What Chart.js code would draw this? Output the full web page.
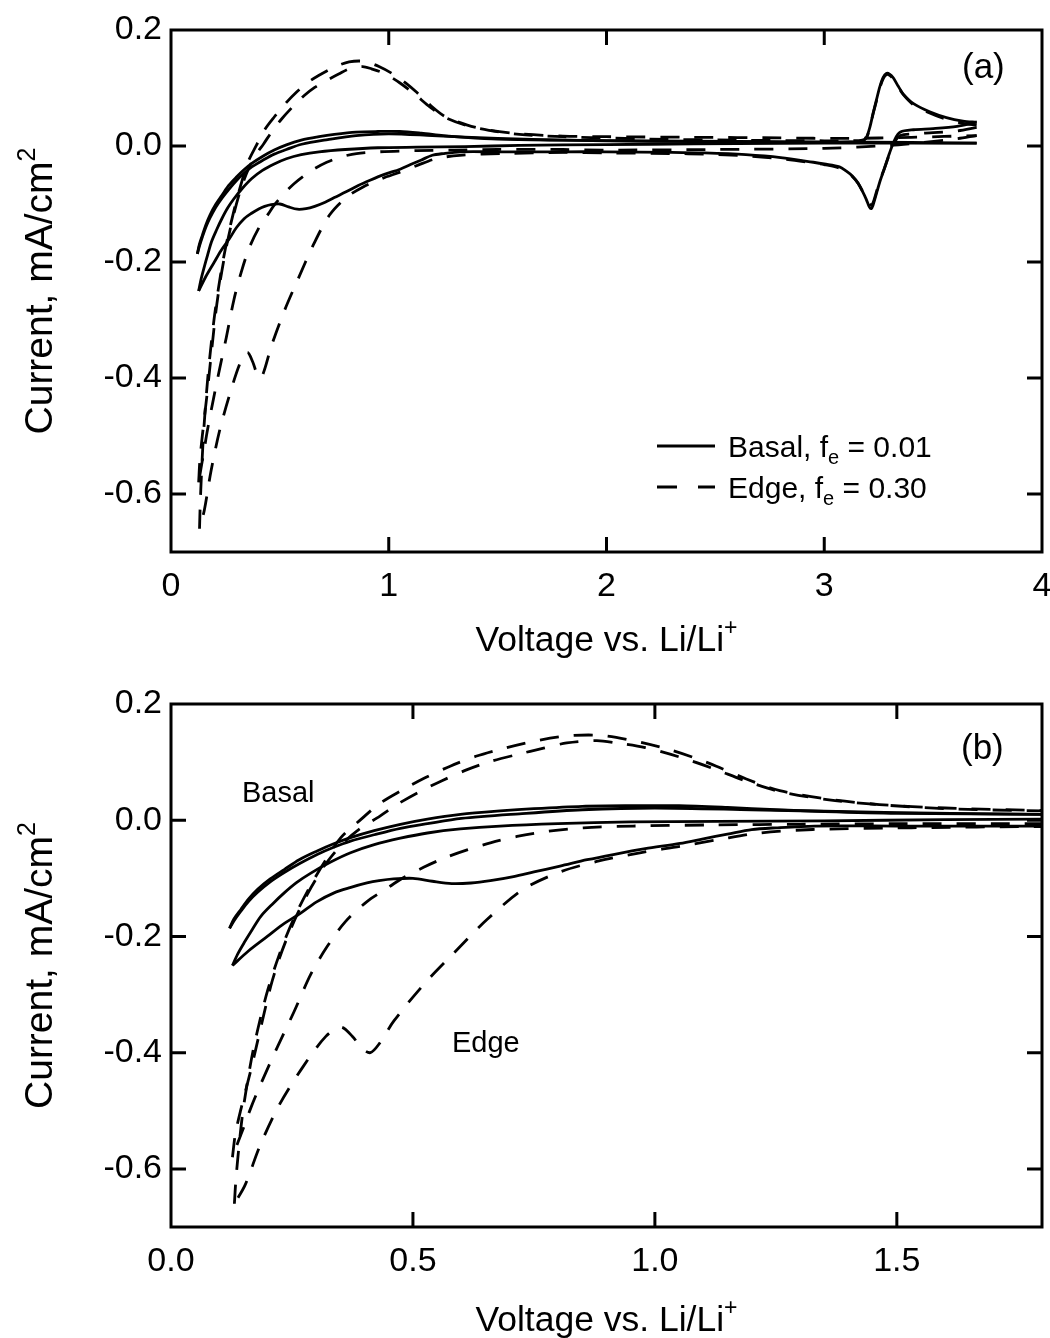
<!DOCTYPE html>
<html>
<head>
<meta charset="utf-8">
<script src="https://cdn.jsdelivr.net/npm/chart.js@4.4.1/dist/chart.umd.min.js"></script>
<style>
  html, body { margin: 0; padding: 0; background: #fff; }
  #wrap { position: relative; width: 1050px; height: 1338px; }
  canvas { position: absolute; left: 0; }
  #panelA { top: 0; }
  #panelB { top: 680px; }
</style>
</head>
<body>
<div id="wrap">
  <canvas id="panelA" width="1050" height="680"></canvas>
  <canvas id="panelB" width="1050" height="658"></canvas>
</div>
<script>
const FONT = "'Liberation Sans', Arial, sans-serif";

// axis ticks
const yTicks = [0.2, 0.0, -0.2, -0.4, -0.6];
const xTicksA = [0, 1, 2, 3, 4];
const xTicksB = [0.0, 0.5, 1.0, 1.5];

// Basal, f_e = 0.01 (solid) -- voltage (V vs Li/Li+) and current (mA/cm2)
// sweep 1: cathodic from 3.7 V, redox reduction peak + SEI bump, down to vertex
const basalSweep1V = [3.70, 3.61, 3.50, 3.41, 3.35, 3.325, 3.30, 3.275, 3.255, 3.235, 3.224, 3.216, 3.207, 3.193, 3.178, 3.155, 3.13, 3.10, 3.07, 3.00, 2.95, 2.80, 2.64, 2.45, 2.30, 2.00, 1.80, 1.50, 1.33, 1.25, 1.20, 1.15, 1.10, 1.052, 0.98, 0.914, 0.86, 0.804, 0.75, 0.708, 0.66, 0.62, 0.58, 0.54, 0.50, 0.46, 0.43, 0.405, 0.37, 0.337, 0.30, 0.268, 0.23, 0.199, 0.16, 0.127];
const basalSweep1I = [0.041, 0.034, 0.030, 0.028, 0.024, 0.012, -0.012, -0.040, -0.062, -0.088, -0.102, -0.108, -0.105, -0.092, -0.080, -0.064, -0.052, -0.043, -0.036, -0.031, -0.028, -0.020, -0.015, -0.012, -0.011, -0.010, -0.010, -0.010, -0.010, -0.013, -0.016, -0.024, -0.032, -0.040, -0.049, -0.059, -0.068, -0.079, -0.089, -0.097, -0.104, -0.108, -0.109, -0.105, -0.100, -0.101, -0.104, -0.108, -0.116, -0.125, -0.141, -0.160, -0.180, -0.200, -0.225, -0.250];
// sweep 2: anodic back from -0.25 vertex
const basalSweep2V = [0.127, 0.138, 0.151, 0.168, 0.186, 0.21, 0.234, 0.26, 0.289, 0.33, 0.371, 0.42, 0.474, 0.53, 0.598, 0.68, 0.80, 0.95, 1.13, 1.35, 1.6, 1.8, 2.2, 2.6, 3.0, 3.4, 3.70];
const basalSweep2I = [-0.250, -0.230, -0.211, -0.188, -0.165, -0.144, -0.125, -0.107, -0.091, -0.072, -0.056, -0.042, -0.031, -0.022, -0.015, -0.010, -0.006, -0.003, -0.002, -0.001, 0.001, 0.002, 0.003, 0.004, 0.005, 0.005, 0.005];
// sweep 3: cathodic, second cycle, to -0.19 vertex
const basalSweep3V = [3.70, 3.40, 3.00, 2.60, 2.20, 1.80, 1.50, 1.20, 1.00, 0.85, 0.72, 0.60, 0.53, 0.474, 0.42, 0.371, 0.335, 0.302, 0.265, 0.234, 0.205, 0.179, 0.16, 0.144, 0.131, 0.121];
const basalSweep3I = [0.005, 0.006, 0.007, 0.008, 0.009, 0.010, 0.013, 0.018, 0.021, 0.018, 0.011, 0.003, -0.006, -0.014, -0.025, -0.036, -0.047, -0.059, -0.075, -0.090, -0.106, -0.124, -0.140, -0.157, -0.172, -0.186];
// sweep 4: anodic, second cycle, through the oxidation peak
const basalSweep4V = [0.121, 0.130, 0.144, 0.16, 0.179, 0.205, 0.234, 0.265, 0.302, 0.335, 0.371, 0.42, 0.474, 0.53, 0.598, 0.68, 0.75, 0.85, 0.95, 1.05, 1.15, 1.25, 1.35, 1.50, 1.80, 2.20, 2.60, 3.00, 3.12, 3.175, 3.193, 3.21, 3.224, 3.24, 3.255, 3.27, 3.285, 3.30, 3.316, 3.34, 3.362, 3.41, 3.484, 3.561, 3.637, 3.70];
const basalSweep4I = [-0.186, -0.170, -0.154, -0.136, -0.119, -0.101, -0.085, -0.068, -0.053, -0.041, -0.030, -0.018, -0.007, 0.002, 0.010, 0.016, 0.020, 0.024, 0.025, 0.025, 0.022, 0.018, 0.015, 0.012, 0.010, 0.008, 0.007, 0.006, 0.007, 0.009, 0.014, 0.033, 0.056, 0.080, 0.102, 0.118, 0.125, 0.124, 0.118, 0.103, 0.090, 0.073, 0.059, 0.049, 0.043, 0.041];

// Edge, f_e = 0.30 (dashed)
const edgeSweep1V = [3.70, 3.61, 3.50, 3.41, 3.35, 3.325, 3.30, 3.275, 3.255, 3.235, 3.224, 3.216, 3.207, 3.193, 3.178, 3.155, 3.13, 3.10, 3.07, 3.00, 2.95, 2.80, 2.64, 2.45, 2.30, 2.00, 1.80, 1.53, 1.326, 1.216, 1.134, 1.052, 0.969, 0.88, 0.804, 0.728, 0.653, 0.584, 0.522, 0.461, 0.43, 0.412, 0.395, 0.375, 0.351, 0.32, 0.273, 0.223, 0.184, 0.153, 0.131];
const edgeSweep1I = [0.032, 0.026, 0.023, 0.021, 0.018, 0.008, -0.014, -0.040, -0.060, -0.085, -0.098, -0.102, -0.099, -0.088, -0.079, -0.064, -0.053, -0.044, -0.038, -0.032, -0.029, -0.022, -0.017, -0.014, -0.013, -0.012, -0.011, -0.013, -0.016, -0.022, -0.033, -0.045, -0.056, -0.071, -0.089, -0.119, -0.171, -0.229, -0.283, -0.345, -0.385, -0.400, -0.393, -0.372, -0.356, -0.372, -0.424, -0.491, -0.560, -0.628, -0.660];
const edgeSweep2V = [0.131, 0.134, 0.140, 0.148, 0.158, 0.170, 0.185, 0.200, 0.218, 0.238, 0.262, 0.29, 0.32, 0.351, 0.392, 0.43, 0.474, 0.525, 0.577, 0.63, 0.68, 0.75, 0.818, 0.887, 0.955, 1.024, 1.08, 1.127, 1.189, 1.258, 1.361, 1.464, 1.60, 1.80, 2.00, 2.40, 2.80, 3.10, 3.40, 3.70];
const edgeSweep2I = [-0.660, -0.620, -0.565, -0.505, -0.450, -0.395, -0.340, -0.292, -0.245, -0.200, -0.155, -0.110, -0.068, -0.030, 0.001, 0.028, 0.050, 0.073, 0.093, 0.110, 0.122, 0.136, 0.145, 0.146, 0.137, 0.123, 0.108, 0.093, 0.071, 0.051, 0.036, 0.027, 0.021, 0.017, 0.016, 0.015, 0.014, 0.013, 0.015, 0.018];
const edgeSweep3V = [3.70, 3.60, 3.45, 3.30, 3.00, 2.50, 2.00, 1.80, 1.50, 1.30, 1.13, 0.955, 0.852, 0.78, 0.715, 0.66, 0.612, 0.565, 0.522, 0.474, 0.447, 0.405, 0.36, 0.323, 0.289, 0.254, 0.220, 0.186, 0.165, 0.151, 0.138, 0.127];
const edgeSweep3I = [0.018, 0.012, 0.006, 0.001, -0.004, -0.006, -0.007, -0.006, -0.006, -0.007, -0.008, -0.010, -0.013, -0.019, -0.028, -0.039, -0.051, -0.065, -0.081, -0.102, -0.117, -0.140, -0.175, -0.217, -0.265, -0.330, -0.390, -0.453, -0.495, -0.527, -0.555, -0.580];
const edgeSweep4V = [0.127, 0.133, 0.144, 0.165, 0.186, 0.206, 0.223, 0.241, 0.262, 0.29, 0.32, 0.355, 0.39, 0.426, 0.465, 0.509, 0.56, 0.612, 0.66, 0.715, 0.77, 0.818, 0.88, 0.921, 0.98, 1.05, 1.12, 1.19, 1.26, 1.36, 1.46, 1.60, 1.80, 2.20, 2.60, 3.00, 3.12, 3.175, 3.195, 3.21, 3.224, 3.24, 3.255, 3.272, 3.285, 3.30, 3.316, 3.34, 3.362, 3.41, 3.484, 3.561, 3.637, 3.70];
const edgeSweep4I = [-0.580, -0.540, -0.499, -0.430, -0.355, -0.286, -0.240, -0.200, -0.160, -0.115, -0.075, -0.040, -0.015, 0.004, 0.026, 0.047, 0.068, 0.087, 0.101, 0.113, 0.124, 0.133, 0.137, 0.133, 0.125, 0.109, 0.089, 0.067, 0.049, 0.035, 0.027, 0.020, 0.016, 0.012, 0.010, 0.009, 0.009, 0.010, 0.015, 0.033, 0.055, 0.078, 0.100, 0.117, 0.123, 0.122, 0.116, 0.102, 0.089, 0.071, 0.057, 0.046, 0.039, 0.036];

const toPts = (vs, is) => vs.map((v, k) => ({ x: v, y: is[k] }));

function sweep(vs, is, dashed) {
  return {
    data: toPts(vs, is),
    showLine: true,
    borderColor: '#000',
    borderWidth: 2.8,
    borderDash: dashed ? [19, 15] : [],
    pointRadius: 0,
    tension: 0.3,
    fill: false
  };
}

function buildDatasets() {
  return [
    sweep(basalSweep1V, basalSweep1I, false),
    sweep(basalSweep2V, basalSweep2I, false),
    sweep(basalSweep3V, basalSweep3I, false),
    sweep(basalSweep4V, basalSweep4I, false),
    sweep(edgeSweep1V, edgeSweep1I, true),
    sweep(edgeSweep2V, edgeSweep2I, true),
    sweep(edgeSweep3V, edgeSweep3I, true),
    sweep(edgeSweep4V, edgeSweep4I, true)
  ];
}

// text with sub/superscript pieces
function richWidth(ctx, parts) {
  let w = 0;
  parts.forEach(p => { ctx.font = p.size + 'px ' + FONT; w += ctx.measureText(p.t).width; });
  return w;
}
function drawRich(ctx, parts, x, y) {
  parts.forEach(p => {
    ctx.font = p.size + 'px ' + FONT;
    ctx.fillText(p.t, x, y + (p.dy || 0));
    x += ctx.measureText(p.t).width;
  });
}

const xTitle = [{ t: 'Voltage vs. Li/Li', size: 35.5 }, { t: '+', size: 23, dy: -16 }];
const yTitle = [{ t: 'Current, mA/cm', size: 39 }, { t: '2', size: 25, dy: -17 }];

// frame, inside ticks on all four sides, titles and labels
const framePlugin = {
  id: 'framePlugin',
  afterDraw(chart, args, opts) {
    const { ctx, chartArea: a } = chart;
    const xs = chart.scales.x, ys = chart.scales.y;
    ctx.save();
    ctx.strokeStyle = '#000';
    ctx.fillStyle = '#000';
    ctx.lineWidth = 3;
    ctx.strokeRect(a.left, a.top, a.right - a.left, a.bottom - a.top);

    const tl = 15;
    ctx.beginPath();
    opts.xTicks.forEach(v => {
      const p = xs.getPixelForValue(v);
      if (p > a.left + 3 && p < a.right - 3) {
        ctx.moveTo(p, a.bottom); ctx.lineTo(p, a.bottom - tl);
        ctx.moveTo(p, a.top); ctx.lineTo(p, a.top + tl);
      }
    });
    yTicks.forEach(v => {
      const p = ys.getPixelForValue(v);
      if (p > a.top + 3 && p < a.bottom - 3) {
        ctx.moveTo(a.left, p); ctx.lineTo(a.left + tl, p);
        ctx.moveTo(a.right, p); ctx.lineTo(a.right - tl, p);
      }
    });
    ctx.stroke();

    ctx.textAlign = 'left';
    ctx.textBaseline = 'alphabetic';

    // x title
    const cx = (a.left + a.right) / 2;
    drawRich(ctx, xTitle, cx - richWidth(ctx, xTitle) / 2, 651);

    // y title
    ctx.save();
    ctx.translate(52, (a.top + a.bottom) / 2);
    ctx.rotate(-Math.PI / 2);
    drawRich(ctx, yTitle, -richWidth(ctx, yTitle) / 2, 0);
    ctx.restore();

    // panel tag
    ctx.font = '35px ' + FONT;
    ctx.fillText(opts.tag, opts.tagX, opts.tagY);

    if (opts.legend) {
      ctx.lineWidth = 2.8;
      ctx.beginPath();
      ctx.moveTo(657, 446); ctx.lineTo(715, 446);
      ctx.stroke();
      ctx.setLineDash([20, 21]);
      ctx.beginPath();
      ctx.moveTo(657, 487); ctx.lineTo(715, 487);
      ctx.stroke();
      ctx.setLineDash([]);
      drawRich(ctx, [{ t: 'Basal, f', size: 30 }, { t: 'e', size: 20, dy: 7 }, { t: ' = 0.01', size: 30 }], 728, 457);
      drawRich(ctx, [{ t: 'Edge, f', size: 30 }, { t: 'e', size: 20, dy: 7 }, { t: ' = 0.30', size: 30 }], 728, 498);
    }
    if (opts.notes) {
      ctx.font = '29px ' + FONT;
      opts.notes.forEach(n => ctx.fillText(n.t, n.x, n.y));
    }
    ctx.restore();
  }
};

function makePanel(id, xMax, xTicks, decimals, topPad, xAxisHeight, extra) {
  const ctx = document.getElementById(id).getContext('2d');
  return new Chart(ctx, {
    type: 'scatter',
    data: { datasets: buildDatasets() },
    options: {
      responsive: false,
      animation: false,
      layout: { padding: { left: 0, right: 8, top: topPad, bottom: 0 } },
      plugins: {
        legend: { display: false },
        tooltip: { enabled: false },
        framePlugin: Object.assign({ xTicks: xTicks }, extra)
      },
      scales: {
        x: {
          type: 'linear',
          min: 0,
          max: xMax,
          grid: { display: false, drawTicks: false },
          border: { display: false },
          afterBuildTicks: s => { s.ticks = xTicks.map(v => ({ value: v })); },
          afterFit: s => { s.height = xAxisHeight; s.paddingLeft = 0; s.paddingRight = 0; },
          ticks: {
            color: '#000',
            padding: 14,
            maxRotation: 0,
            autoSkip: false,
            font: { size: 34, family: FONT },
            callback: v => Number(v).toFixed(decimals)
          }
        },
        y: {
          type: 'linear',
          min: -0.7,
          max: 0.2,
          grid: { display: false, drawTicks: false },
          border: { display: false },
          afterBuildTicks: s => { s.ticks = yTicks.map(v => ({ value: v })); },
          afterFit: s => { s.width = 171; s.paddingTop = 0; s.paddingBottom = 0; },
          ticks: {
            color: '#000',
            padding: 9,
            autoSkip: false,
            font: { size: 34, family: FONT },
            callback: v => Number(v).toFixed(1)
          }
        }
      }
    },
    plugins: [framePlugin]
  });
}

makePanel('panelA', 4, xTicksA, 0, 30, 128, {
  tag: '(a)', tagX: 962, tagY: 78, legend: true
});
makePanel('panelB', 1.8, xTicksB, 1, 24, 111, {
  tag: '(b)', tagX: 961, tagY: 79,
  notes: [{ t: 'Basal', x: 242, y: 122 }, { t: 'Edge', x: 452, y: 372 }]
});
</script>
</body>
</html>
